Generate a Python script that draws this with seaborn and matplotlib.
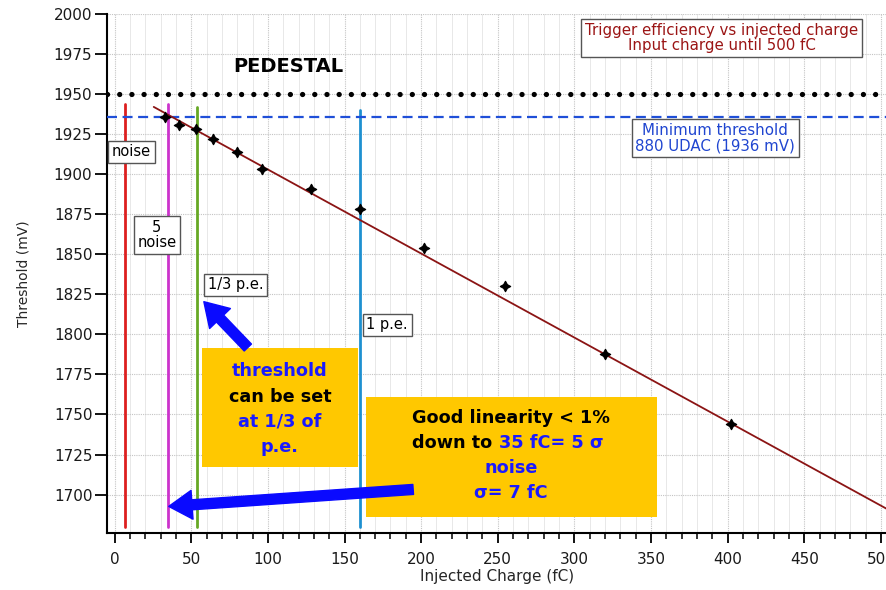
import matplotlib
matplotlib.use("Agg")
import matplotlib.pyplot as plt
from matplotlib.ticker import MultipleLocator
from matplotlib.patches import Rectangle
import seaborn as sns
import pandas as pd

# ---- data ----
charge_fc = [33, 42, 53, 64, 80, 96, 128, 160, 202, 255, 320, 402]
threshold_mv = [1936, 1931, 1928, 1922, 1914, 1903, 1891, 1878, 1854, 1830, 1788, 1744]
fit_x = [25.5, 504]
fit_y = [1942, 1691]
pedestal_mv = 1950
min_threshold_mv = 1936
marker_x = [7, 35, 53.5, 160]
marker_top = [1944, 1944, 1942, 1940]
marker_colors = ["#dd1f1f", "#cc33cc", "#66a824", "#1e90d0"]
marker_labels = ["noise", "5\nnoise", "1/3 p.e.", "1 p.e."]
x_ticks = [0, 50, 100, 150, 200, 250, 300, 350, 400, 450, 500]
y_ticks = [1700, 1725, 1750, 1775, 1800, 1825, 1850, 1875, 1900, 1925, 1950, 1975, 2000]

sns.set_style("white")
plt.rcParams["font.family"] = ["DejaVu Sans"]
plt.rcParams["text.color"] = "#1a1a1a"
plt.rcParams["xtick.labelcolor"] = "#1a1a1a"
plt.rcParams["ytick.labelcolor"] = "#1a1a1a"

fig = plt.figure(figsize=(8.87, 5.90), dpi=100)
ax = fig.add_axes([107 / 887, 1 - 533 / 590, 1 - 107 / 887, (533 - 14) / 590])

ax.set_xlim(-5, 504)
ax.set_ylim(1676, 2000)

# grid
ax.xaxis.set_major_locator(MultipleLocator(50))
ax.xaxis.set_minor_locator(MultipleLocator(10))
ax.yaxis.set_major_locator(MultipleLocator(25))
ax.grid(which="major", axis="both", color="#c4c4c4", linestyle=(0, (1, 1)), linewidth=0.8)
ax.grid(which="minor", axis="x", color="#e8e8e8", linestyle="-", linewidth=0.7)
ax.set_axisbelow(True)

# vertical marker lines
for xv, top, c in zip(marker_x, marker_top, marker_colors):
    ax.plot([xv, xv], [1680, top], color=c, linewidth=2.0, zorder=2)

# pedestal dotted and min threshold dashed
ax.axhline(pedestal_mv, color="black", linewidth=3.8,
           linestyle=(0, (0.01, 2.3)), dash_capstyle="round", zorder=3)
ax.axhline(min_threshold_mv, color="#1f4fd8", linewidth=1.6,
           linestyle=(0, (4.5, 2.5)), zorder=3)

# fit line and points
sns.lineplot(x=fit_x, y=fit_y, ax=ax, color="#8b1414", linewidth=1.3, zorder=4)
df = pd.DataFrame({"charge": charge_fc, "thr": threshold_mv})
sns.scatterplot(data=df, x="charge", y="thr", ax=ax, marker=(4, 1, 0), s=55,
                color="black", edgecolor="black", linewidth=0.9, zorder=5)

# spines / ticks
for s in ["top", "right"]:
    ax.spines[s].set_visible(False)
ax.spines["left"].set_color("black")
ax.spines["bottom"].set_color("black")
ax.spines["left"].set_linewidth(1.5)
ax.spines["bottom"].set_linewidth(1.5)
ax.set_xticks(x_ticks)
ax.set_yticks(y_ticks)
ax.tick_params(axis="y", which="major", direction="out", length=8.5, width=1.3,
               labelsize=11, pad=2, left=True, color="black")
ax.tick_params(axis="x", which="major", direction="out", length=7, width=1.3,
               labelsize=11, pad=7, bottom=True, color="black")
ax.tick_params(axis="x", which="minor", direction="out", length=4, width=1.1,
               bottom=True, color="black")
ax.set_xlabel("Injected Charge (fC)", fontsize=11, labelpad=1)
ax.set_ylabel("Threshold (mV)", fontsize=10, labelpad=17)

box = dict(boxstyle="square,pad=0.25", facecolor="white", edgecolor="#555555", linewidth=1)

# labels on marker lines
label_pos = [(11.1, 1914), (27.5, 1862), (79, 1831), (177.8, 1806)]
for (lx, ly), t in zip(label_pos, marker_labels):
    ax.text(lx, ly, t, ha="center", va="center", fontsize=10.5, color="black",
            bbox=box, zorder=6, linespacing=1.05)

ax.text(113, 1967, "PEDESTAL", ha="center", va="center", fontsize=14,
        fontweight="bold", color="black")
ax.text(396, 1985, "Trigger efficiency vs injected charge\nInput charge until 500 fC",
        ha="center", va="center", fontsize=10.8, color="#9b1515", bbox=box,
        linespacing=1.0, zorder=6)
ax.text(392, 1922.5, "Minimum threshold\n880 UDAC (1936 mV)",
        ha="center", va="center", fontsize=10.8, color="#1f45d0", bbox=box,
        linespacing=1.0, zorder=6)

# yellow annotation boxes
yellow = "#ffc800"
ax.add_patch(Rectangle((57, 1717), 101.8, 74.8, facecolor=yellow, edgecolor="none", zorder=6))
ax.add_patch(Rectangle((164, 1686), 189.6, 75.2, facecolor=yellow, edgecolor="none", zorder=6))

blue_txt = "#1a1aff"
fs = 12.7
for ty, t, c in [(1777.4, "threshold", blue_txt), (1761.2, "can be set", "black"),
                 (1745.6, "at 1/3 of", blue_txt), (1729.4, "p.e.", blue_txt)]:
    ax.text(107.8, ty, t, ha="center", va="center", fontsize=fs, fontweight="bold",
            color=c, zorder=7)

ax.text(258.8, 1748.1, "Good linearity < 1%", ha="center", va="center", fontsize=fs,
        fontweight="bold", color="black", zorder=7)
ax.text(250.5, 1731.9, "down to ", ha="right", va="center", fontsize=fs,
        fontweight="bold", color="black", zorder=7)
ax.text(251.0, 1731.9, "35 fC= 5 σ", ha="left", va="center", fontsize=fs,
        fontweight="bold", color=blue_txt, zorder=7)
ax.text(258.8, 1716.3, "noise", ha="center", va="center", fontsize=fs,
        fontweight="bold", color=blue_txt, zorder=7)
ax.text(258.8, 1700.7, "σ= 7 fC", ha="center", va="center", fontsize=fs,
        fontweight="bold", color=blue_txt, zorder=7)

# arrows
arrow_style = "simple,head_length=1.05,head_width=1.3,tail_width=0.45"
ax.annotate("", xy=(58.2, 1820.4), xytext=(86.9, 1791.8),
            arrowprops=dict(arrowstyle=arrow_style, color="#0a0aff", mutation_scale=16,
                            shrinkA=0, shrinkB=0), zorder=8)
ax.annotate("", xy=(35.3, 1692.6), xytext=(194.8, 1703.2),
            arrowprops=dict(arrowstyle=arrow_style, color="#0a0aff", mutation_scale=16,
                            shrinkA=0, shrinkB=0), zorder=8)

fig.savefig("out.png", dpi=100)
